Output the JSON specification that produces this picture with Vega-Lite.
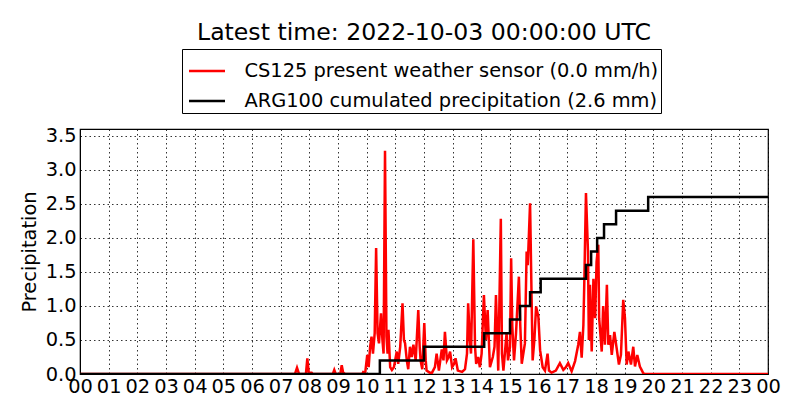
{
  "$schema": "https://vega.github.io/schema/vega-lite/v6.json",
  "width": 688,
  "height": 245,
  "autosize": {"type": "none"},
  "padding": {"left": 80, "top": 129, "right": 32, "bottom": 46},
  "background": "white",
  "title": {"text": "Latest time: 2022-10-03 00:00:00 UTC", "fontSize": 23.6, "font": "DejaVu Sans", "fontWeight": "normal", "color": "black", "anchor": "middle", "offset": 4},
  "config": {
    "font": "DejaVu Sans",
    "view": {"stroke": "black", "strokeWidth": 1.2},
    "axis": {"labelFont": "DejaVu Sans", "labelFontSize": 19.4, "labelColor": "black", "titleFont": "DejaVu Sans", "titleFontSize": 19.4, "titleFontWeight": "normal", "titleColor": "black", "grid": true, "gridColor": "black", "gridDash": [1.5, 3], "gridOpacity": 0.8, "gridWidth": 1, "domainColor": "black", "ticks": false, "labelFlush": false}
  },
  "datasets": {
    "cs125": [
      {"h": 0, "v": 0}, {"h": 7.5, "v": 0}, {"h": 7.57, "v": 0.09}, {"h": 7.64, "v": 0}, {"h": 7.88, "v": 0}, {"h": 7.93, "v": 0.23}, {"h": 7.98, "v": 0.02}, {"h": 8.08, "v": 0.02}, {"h": 8.12, "v": 0},
      {"h": 8.82, "v": 0}, {"h": 8.87, "v": 0.06}, {"h": 8.92, "v": 0}, {"h": 9.08, "v": 0}, {"h": 9.13, "v": 0.13}, {"h": 9.18, "v": 0.02}, {"h": 9.25, "v": 0},
      {"h": 9.85, "v": 0}, {"h": 9.88, "v": 0.03}, {"h": 9.95, "v": 0.02}, {"h": 10.02, "v": 0.28}, {"h": 10.07, "v": 0.1}, {"h": 10.12, "v": 0.4}, {"h": 10.17, "v": 0.55}, {"h": 10.22, "v": 0.3}, {"h": 10.28, "v": 0.6},
      {"h": 10.33, "v": 1.85}, {"h": 10.38, "v": 0.6}, {"h": 10.43, "v": 0.45}, {"h": 10.5, "v": 0.89}, {"h": 10.55, "v": 0.5}, {"h": 10.59, "v": 0.3}, {"h": 10.64, "v": 3.28}, {"h": 10.69, "v": 0.55}, {"h": 10.73, "v": 0.3},
      {"h": 10.76, "v": 0.65}, {"h": 10.82, "v": 0.1}, {"h": 10.88, "v": 0.06}, {"h": 10.95, "v": 0.1}, {"h": 11.05, "v": 0.33}, {"h": 11.1, "v": 0.15}, {"h": 11.17, "v": 0.4}, {"h": 11.25, "v": 1.04}, {"h": 11.3, "v": 0.5},
      {"h": 11.34, "v": 0.45}, {"h": 11.4, "v": 0.2}, {"h": 11.45, "v": 0.07}, {"h": 11.51, "v": 0.4}, {"h": 11.57, "v": 0.25}, {"h": 11.63, "v": 0.43}, {"h": 11.71, "v": 0.2}, {"h": 11.8, "v": 0.94}, {"h": 11.85, "v": 0.4},
      {"h": 11.88, "v": 0.2}, {"h": 11.94, "v": 0.07}, {"h": 12.01, "v": 0.75}, {"h": 12.06, "v": 0.2}, {"h": 12.09, "v": 0.05}, {"h": 12.2, "v": 0.02}, {"h": 12.28, "v": 0.02}, {"h": 12.38, "v": 0.1}, {"h": 12.44, "v": 0.3},
      {"h": 12.52, "v": 0.05}, {"h": 12.62, "v": 0.36}, {"h": 12.68, "v": 0.2}, {"h": 12.73, "v": 0.62}, {"h": 12.8, "v": 0.2}, {"h": 12.86, "v": 0.25}, {"h": 12.91, "v": 0.33}, {"h": 12.98, "v": 0.1}, {"h": 13.05, "v": 0.15},
      {"h": 13.1, "v": 0.23}, {"h": 13.18, "v": 0.05}, {"h": 13.33, "v": 0.03}, {"h": 13.43, "v": 0.07}, {"h": 13.5, "v": 0.3}, {"h": 13.54, "v": 1.04}, {"h": 13.6, "v": 0.5}, {"h": 13.64, "v": 0.3}, {"h": 13.72, "v": 1.98},
      {"h": 13.78, "v": 0.4}, {"h": 13.82, "v": 0.15}, {"h": 13.89, "v": 0.25}, {"h": 13.95, "v": 0.1}, {"h": 14.01, "v": 0.3}, {"h": 14.09, "v": 1.16}, {"h": 14.16, "v": 0.5}, {"h": 14.22, "v": 0.94}, {"h": 14.3, "v": 0.1},
      {"h": 14.4, "v": 0.25}, {"h": 14.46, "v": 0.4}, {"h": 14.51, "v": 1.16}, {"h": 14.59, "v": 0.05}, {"h": 14.68, "v": 2.28}, {"h": 14.72, "v": 0.3}, {"h": 14.77, "v": 0.05}, {"h": 14.88, "v": 0.6}, {"h": 14.93, "v": 0.2},
      {"h": 15.0, "v": 0.4}, {"h": 15.04, "v": 1.7}, {"h": 15.08, "v": 0.7}, {"h": 15.14, "v": 0.2}, {"h": 15.21, "v": 0.6}, {"h": 15.31, "v": 1.43}, {"h": 15.36, "v": 0.7}, {"h": 15.41, "v": 0.15}, {"h": 15.52, "v": 0.45},
      {"h": 15.58, "v": 1.8}, {"h": 15.62, "v": 1.6}, {"h": 15.7, "v": 2.51}, {"h": 15.75, "v": 1.2}, {"h": 15.79, "v": 0.2}, {"h": 15.85, "v": 0.5}, {"h": 15.91, "v": 0.99}, {"h": 15.99, "v": 0.84}, {"h": 16.05, "v": 0.35},
      {"h": 16.14, "v": 0.1}, {"h": 16.22, "v": 0.05}, {"h": 16.31, "v": 0.3}, {"h": 16.36, "v": 0.05}, {"h": 16.45, "v": 0.02}, {"h": 16.6, "v": 0.05}, {"h": 16.74, "v": 0.16}, {"h": 16.86, "v": 0.06}, {"h": 16.95, "v": 0.1},
      {"h": 17.03, "v": 0.16}, {"h": 17.15, "v": 0.04}, {"h": 17.27, "v": 0.19}, {"h": 17.38, "v": 0.43}, {"h": 17.44, "v": 0.62}, {"h": 17.5, "v": 0.24}, {"h": 17.56, "v": 0.72}, {"h": 17.59, "v": 1.31}, {"h": 17.65, "v": 2.66},
      {"h": 17.72, "v": 1.8}, {"h": 17.75, "v": 0.5}, {"h": 17.79, "v": 1.31}, {"h": 17.85, "v": 0.33}, {"h": 17.91, "v": 1.4}, {"h": 17.97, "v": 0.82}, {"h": 18.02, "v": 1.65}, {"h": 18.08, "v": 1.9}, {"h": 18.11, "v": 0.82},
      {"h": 18.2, "v": 0.33}, {"h": 18.25, "v": 1.0}, {"h": 18.31, "v": 0.43}, {"h": 18.38, "v": 1.31}, {"h": 18.43, "v": 0.43}, {"h": 18.49, "v": 0.57}, {"h": 18.55, "v": 0.28}, {"h": 18.64, "v": 0.62}, {"h": 18.72, "v": 0.38},
      {"h": 18.8, "v": 0.14}, {"h": 18.87, "v": 0.28}, {"h": 18.95, "v": 1.09}, {"h": 19.01, "v": 0.82}, {"h": 19.07, "v": 0.14}, {"h": 19.13, "v": 0.33}, {"h": 19.22, "v": 0.14}, {"h": 19.3, "v": 0.4}, {"h": 19.36, "v": 0.11},
      {"h": 19.44, "v": 0.28}, {"h": 19.53, "v": 0.11}, {"h": 19.59, "v": 0.06}, {"h": 19.65, "v": 0.01}, {"h": 19.7, "v": 0}, {"h": 24, "v": 0}
    ],
    "arg100": [
      {"h": 0, "v": 0}, {"h": 10.46, "v": 0.2}, {"h": 12.0, "v": 0.4}, {"h": 14.1, "v": 0.6}, {"h": 15.0, "v": 0.8}, {"h": 15.35, "v": 1.0}, {"h": 15.7, "v": 1.2}, {"h": 16.07, "v": 1.4},
      {"h": 17.65, "v": 1.6}, {"h": 17.83, "v": 1.8}, {"h": 18.04, "v": 2.0}, {"h": 18.28, "v": 2.2}, {"h": 18.7, "v": 2.4}, {"h": 19.82, "v": 2.6}, {"h": 24, "v": 2.6}
    ]
  },
  "encoding": {
    "x": {"field": "h", "type": "quantitative", "scale": {"domain": [0, 24], "nice": false, "zero": false},
      "axis": {"title": null, "values": [0,1,2,3,4,5,6,7,8,9,10,11,12,13,14,15,16,17,18,19,20,21,22,23,24], "labelExpr": "datum.value >= 24 ? '00' : (datum.value < 10 ? '0' + datum.value : '' + datum.value)", "labelPadding": 3}},
    "y": {"field": "v", "type": "quantitative", "scale": {"domain": [0, 3.6], "nice": false},
      "axis": {"title": "Precipitation", "values": [0, 0.5, 1, 1.5, 2, 2.5, 3, 3.5], "format": ".1f", "labelPadding": 4, "titlePadding": 6}}
  },
  "layer": [
    {
      "data": {"name": "cs125"},
      "mark": {"type": "line", "strokeWidth": 2.5, "clip": true},
      "encoding": {"color": {"datum": "CS125 present weather sensor (0.0 mm/h)", "type": "nominal",
        "scale": {"domain": ["CS125 present weather sensor (0.0 mm/h)", "ARG100 cumulated precipitation (2.6 mm)"], "range": ["#ff0000", "#000000"]},
        "legend": {"title": null, "orient": "none", "legendX": 102, "legendY": -80, "direction": "vertical", "strokeColor": "black", "fillColor": "white", "padding": 2.5, "cornerRadius": 0,
          "labelFont": "DejaVu Sans", "labelFontSize": 19.4, "labelColor": "black", "labelLimit": 0, "labelOffset": 18, "symbolType": "stroke", "symbolSize": 1296, "symbolStrokeWidth": 2.5, "symbolOffset": 3, "rowPadding": 1}}}
    },
    {
      "data": {"name": "arg100"},
      "mark": {"type": "line", "strokeWidth": 2.5, "interpolate": "step-after", "clip": true},
      "encoding": {"color": {"datum": "ARG100 cumulated precipitation (2.6 mm)", "type": "nominal"}}
    }
  ]
}
